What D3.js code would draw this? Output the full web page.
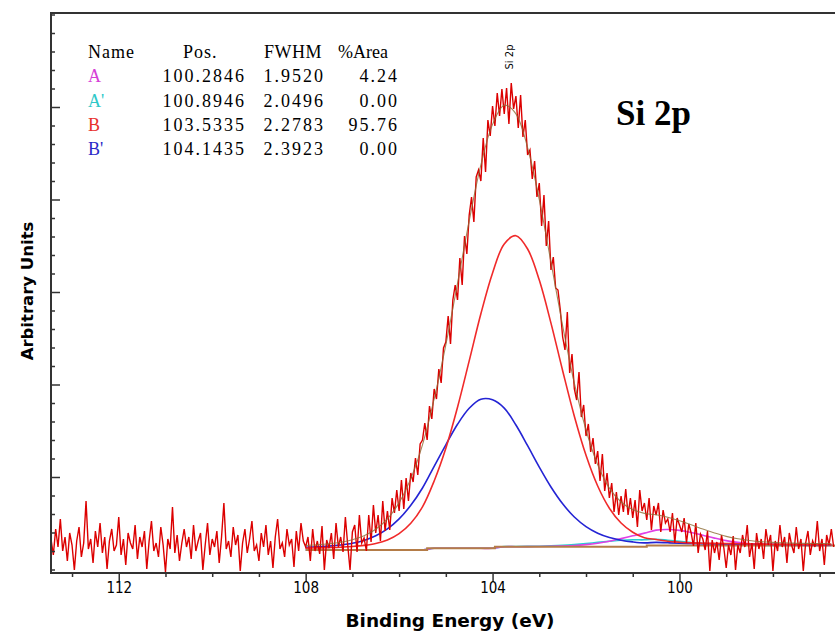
<!DOCTYPE html>
<html><head><meta charset="utf-8">
<script src="https://cdn.jsdelivr.net/npm/d3@7"></script>
<style>html,body{margin:0;padding:0;background:#fff;}svg{display:block;}</style>
</head><body>
<script>
// ---------- data ----------
const xTickLabels = [112, 108, 104, 100];
const xMinorTicks = [113, 111, 110, 109, 107, 106, 105, 103, 102, 101, 99, 98, 97];
const yMajorTicks = [96, 188.5, 281, 373.5, 466];
const yMinorTicks = [3.5, 22, 40.5, 59, 77.5, 114.5, 133, 151.5, 170, 207, 225.5, 244, 262.5, 299.5, 318, 336.5, 355, 392, 410.5, 429, 447.5, 484.5, 503, 521.5, 540, 558.5];

// raw spectrum: binding energy start / step, counts (arbitrary units)
const dataStartE = 113.45;
const dataStepE = 0.05;
const counts = [
34,18,44,26,54,22,36,12,40,28,
3,32,46,16,30,72,24,34,10,42,
26,50,20,36,4,32,44,22,28,56,
18,34,8,40,30,24,48,14,36,26,
42,4,32,52,22,30,16,46,28,1,
34,24,66,20,38,12,30,44,26,36,
14,48,22,32,40,3,28,50,18,34,
26,42,10,36,70,24,32,16,46,28,
38,2,30,44,20,34,52,22,28,12,
40,26,48,18,32,5,36,54,24,30,
16,44,28,34,6,42,22,50,32,26,
36,12,44,22,32, 19,47,3,33,25, 40,14,50,26,36, 21,56,28,3,41,
48,21,58,30,35, 22,58,31,68,40, 58,32,72,42,62, 43,75,60,83,62,
93,64,95,72,100, 91,115,98,129,133, 150,133,167,154,184, 174,204,190,225,231,
257,229,273,288,273, 315,288,337,319,358, 376,351,396,403,392, 435,401,453,437,467,
447,480,457,484,459, 485,449,490,464,477, 445,478,436,453,418, 423,394,412,376,390,
347,378,327,352,303, 316,285,283,263,236, 223,261,200,219,184, 173,201,156,168,137,
149,121,135,109,122, 92,119,82,100,75, 90,61,81,58,77, 61,84,58,75,55,
73,46,83,62,70, 53,75,43,67,58, 70,41,63,50,54, 41,60,30,55,48,
41,55,30,49,40, 27,50,20,39,34, 23,42,2,33,20, 31,13,38,25,5,
28,18,37,3,28, 20,38,26,48,16, 30,4,40,24,34, 14,44,28,38,2,
32,22,48,26,36, 10,40,28,20,46, 24,34,2,30,42, 18,32,26,52,22,
34,8,38,28,44, 26
];

// fitted curves sampled at these binding energies
const fitE = [108,107.75,107.5,107.25,107,106.75,106.5,106.25,106,105.75,105.5,105.25,105,104.75,104.5,104.25,104,103.75,103.5,103.25,103,102.75,102.5,102.25,102,101.75,101.5,101.25,101,100.75,100.5,100.25,100,99.75,99.5,99.25,99,98.75,98.5,98.25,98,97.75,97.5,97.25,97,96.75];
const fitB = [24.9,25.1,25.4,25.8,26.5,27.6,29.5,33,39.3,49.7,66.1,92,124.7,165.7,212.1,259.2,300.1,329.1,337.3,324,292.9,249.9,202.3,156.8,117.7,87,64.8,50,40.8,35.3,33.5,31.8,30.8,30.1,29.8,29.6,29.4,29.2,29.1,28.9,28.8,28.7,28.6,28.5,28.5,28.4];
const fitBp = [25.7,26.2,26.9,28,29.7,32.6,37.2,44.1,54.1,67.7,85,106.7,128.2,148.7,164.7,173.7,173.2,164.9,148,127.3,105.9,86,69.2,56,46.4,39.8,35.5,32.8,31.1,30.1,30.6,30.2,29.8,29.6,29.4,29.2,29,28.9,28.8,28.7,28.6,28.5,28.45,28.4,28.35,28.3];
const fitA = [23,23,23,23,23,23,23,23,23,23,23,24.7,24.7,24.7,24.7,24.7,24.7,26.3,26.3,26.4,26.55,26.7,27,27.5,28.4,29.8,31.8,34.4,37.2,39.9,42.9,43.5,42.6,40.5,37.7,34.9,32.4,30.6,29.3,28.5,28.1,27.9,27.7,27.65,27.6,27.6];
const fitAp = [23,23,23,23,23,23,23,23,23,23,23,24.7,24.7,24.7,24.7,24.75,24.8,26.4,26.5,26.6,26.8,27.1,27.6,28.4,29.4,30.6,31.7,32.7,33.2,33.2,33.8,32.8,31.6,30.5,29.5,28.8,28.3,28,27.75,27.7,27.6,27.6,27.55,27.5,27.5,27.5];
const fitEnvelope = [27.6,28.3,29.3,30.8,33.2,37.2,43.7,54.1,70.4,94.4,128.1,174,228.2,289.7,352.1,408.2,448.6,467.8,459.2,425.4,373.3,310.8,247.2,189.8,143,108.3,84.9,71,63.4,59.6,58.3,55.8,52.3,48.2,43.9,40,36.6,34.2,32.5,31.3,30.6,30.2,29.8,29.6,29.5,29.3];
// Shirley-type background (step points)
const bgE = [108, 105.4, 103.95, 100.7, 96.6];
const bgV = [23, 24.7, 26.3, 27.5, 27.5];

// peak table
const tableHeader = ["Name", "Pos.", "FWHM", "%Area"];
const peakNames = ["A", "A'", "B", "B'"];
const peakPos = ["100.2846", "100.8946", "103.5335", "104.1435"];
const peakFwhm = ["1.9520", "2.0496", "2.2783", "2.3923"];
const peakArea = ["4.24", "0.00", "95.76", "0.00"];
const peakColors = ["#d63ed6", "#2ec8c8", "#e8302c", "#2a2ac8"];

// ---------- drawing ----------
const W = 835, H = 634;
const m = {left: 51, top: 13, right: 836, bottom: 573};
const svg = d3.select("body").append("svg").attr("width", W).attr("height", H);

const x = d3.scaleLinear().domain([113.45, 96.65]).range([m.left, m.right]);
const y = d3.scaleLinear().domain([0, 560]).range([m.bottom, m.top]);

svg.append("defs").append("clipPath").attr("id", "clip")
  .append("rect").attr("x", m.left).attr("y", m.top).attr("width", m.right - m.left).attr("height", m.bottom - m.top);

const plot = svg.append("g").attr("clip-path", "url(#clip)");

const line = d3.line().x(d => x(d[0])).y(d => y(d[1]));
const smooth = d3.line().x(d => x(d[0])).y(d => y(d[1])).curve(d3.curveCatmullRom.alpha(0.5));
const drawFit = (vals, color, w) => plot.append("path").datum(fitE.map((e, i) => [e, vals[i]]))
  .attr("d", smooth).attr("fill", "none").attr("stroke", color).attr("stroke-width", w);

// minor components, then background on top of their baseline
drawFit(fitAp, "#22d0d0", 1.6);
drawFit(fitA, "#e040e6", 1.6);
plot.append("path").datum(bgE.map((e, i) => [e, bgV[i]]))
  .attr("d", d3.line().x(d => x(d[0])).y(d => y(d[1])).curve(d3.curveStepAfter))
  .attr("fill", "none").attr("stroke", "#b47c48").attr("stroke-width", 2);
drawFit(fitBp, "#2424d4", 1.6);
drawFit(fitB, "#f02a2a", 1.6);

// raw data
const dataPts = counts.map((v, i) => [dataStartE - i * dataStepE, v]);
plot.append("path").datum(dataPts).attr("d", line)
  .attr("fill", "none").attr("stroke", "#dc0000").attr("stroke-width", 1.4);

// envelope
drawFit(fitEnvelope, "#8c6c34", 1.1).attr("opacity", 0.8);

// axes
const axisColor = "#333";
const xAxisMajor = svg.append("g").attr("transform", `translate(0,${m.bottom})`)
  .call(d3.axisBottom(x).tickValues(xTickLabels).tickSize(9).tickPadding(0).tickFormat(d3.format("d")));
const xAxisMinor = svg.append("g").attr("transform", `translate(0,${m.bottom})`)
  .call(d3.axisBottom(x).tickValues(xMinorTicks).tickSize(4).tickFormat(""));
const yAxisMajor = svg.append("g").attr("transform", `translate(${m.left},0)`)
  .call(d3.axisRight(y).tickValues(yMajorTicks).tickSize(9).tickFormat(""));
const yAxisMinor = svg.append("g").attr("transform", `translate(${m.left},0)`)
  .call(d3.axisRight(y).tickValues(yMinorTicks).tickSize(4).tickFormat(""));
[xAxisMajor, xAxisMinor, yAxisMajor, yAxisMinor].forEach(g => {
  g.select(".domain").remove();
  g.selectAll(".tick line").attr("stroke", axisColor).attr("stroke-width", 1.5);
});
xAxisMajor.selectAll(".tick text").attr("font-family", "DejaVu Sans Condensed, DejaVu Sans, sans-serif")
  .attr("font-size", 15).attr("fill", "#000");

// frame
svg.append("path")
  .attr("d", `M${m.right + 5},${m.top}H${m.left}V${m.bottom}H${m.right + 5}`)
  .attr("fill", "none").attr("stroke", axisColor).attr("stroke-width", 2);

// axis titles
svg.append("text").attr("x", 450).attr("y", 627).attr("text-anchor", "middle")
  .attr("font-family", "DejaVu Sans, Verdana, sans-serif").attr("font-weight", "bold").attr("font-size", 18.5)
  .text("Binding Energy (eV)");
svg.append("text").attr("transform", "translate(33,291) rotate(-90)").attr("text-anchor", "middle")
  .attr("font-family", "DejaVu Sans, Verdana, sans-serif").attr("font-weight", "bold").attr("font-size", 16.5)
  .text("Arbitrary Units");

// peak label
svg.append("text").attr("transform", `translate(${x(103.7) + 6},57) rotate(-90)`).attr("text-anchor", "middle")
  .attr("font-family", "DejaVu Sans, sans-serif").attr("font-size", 10).text("Si 2p");

svg.append("text").attr("x", 616).attr("y", 125)
  .attr("font-family", "Liberation Serif, Times New Roman, serif").attr("font-weight", "bold").attr("font-size", 35)
  .text("Si 2p");

// peak table
const tbl = svg.append("g").attr("font-family", "Liberation Serif, Times New Roman, serif").attr("font-size", 18);
const colX = {name: 88, posEnd: 246, fwhmEnd: 325, areaEnd: 399};
const headY = 58, rowDy = 24.3;
tbl.append("text").attr("x", colX.name).attr("y", headY).attr("letter-spacing", 1).text(tableHeader[0]);
tbl.append("text").attr("x", 183).attr("y", headY).attr("letter-spacing", 1).text(tableHeader[1]);
tbl.append("text").attr("x", 264).attr("y", headY).attr("letter-spacing", 0.5).text(tableHeader[2]);
tbl.append("text").attr("x", 338).attr("y", headY).attr("letter-spacing", 0).text(tableHeader[3]);
peakNames.forEach((n, i) => {
  const yy = headY + rowDy * (i + 1);
  tbl.append("text").attr("x", colX.name).attr("y", yy).attr("fill", peakColors[i]).text(n);
  tbl.append("text").attr("x", colX.posEnd).attr("y", yy).attr("text-anchor", "end").attr("letter-spacing", 2).text(peakPos[i]);
  tbl.append("text").attr("x", colX.fwhmEnd).attr("y", yy).attr("text-anchor", "end").attr("letter-spacing", 2).text(peakFwhm[i]);
  tbl.append("text").attr("x", colX.areaEnd).attr("y", yy).attr("text-anchor", "end").attr("letter-spacing", 2).text(peakArea[i]);
});
</script>
</body></html>
